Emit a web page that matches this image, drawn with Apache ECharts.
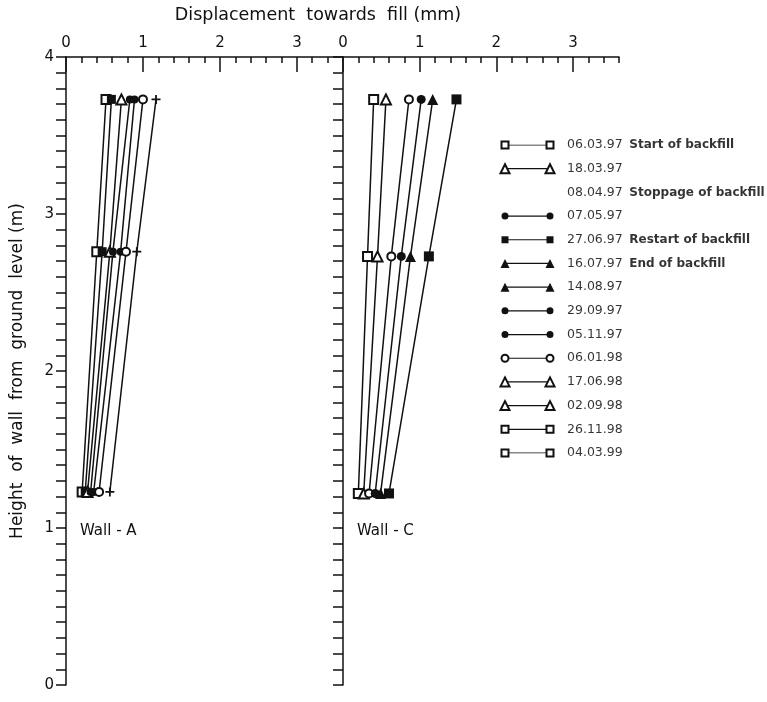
<!DOCTYPE html>
<html>
<head>
<meta charset="utf-8">
<script src="https://cdn.jsdelivr.net/npm/echarts@6/dist/echarts.min.js"></script>
<style>
html, body { margin: 0; background: #fff; }
#chart { width: 767px; height: 702px; }
</style>
</head>
<body>
<div id="chart"></div>
<script>
// gauge heights (m)
const heightsA = [1.23, 2.76, 3.73]
const heightsC = [1.22, 2.73, 3.73]

// Wall-A displacements (mm), bottom -> top
const wallA_openSquare = [0.21, 0.40, 0.52]
const wallA_square = [0.25, 0.47, 0.59]
const wallA_openTriangle = [0.28, 0.57, 0.72]
const wallA_circle1 = [0.32, 0.61, 0.83]
const wallA_circle2 = [0.36, 0.71, 0.89]
const wallA_openCircle = [0.43, 0.78, 1.00]
const wallA_plus = [0.57, 0.92, 1.17]

// Wall-C displacements (mm), bottom -> top
const wallC_openSquare = [0.20, 0.32, 0.40]
const wallC_openTriangle = [0.27, 0.45, 0.56]
const wallC_openCircle = [0.34, 0.63, 0.86]
const wallC_circle = [0.42, 0.76, 1.02]
const wallC_triangle = [0.49, 0.88, 1.17]
const wallC_square = [0.60, 1.12, 1.48]

const yTickLabels = [0, 1, 2, 3, 4]

const legendDates = ['06.03.97', '18.03.97', '08.04.97', '07.05.97', '27.06.97', '16.07.97', '14.08.97',
    '29.09.97', '05.11.97', '06.01.98', '17.06.98', '02.09.98', '26.11.98', '04.03.99']
const legendNotes = ['Start of backfill', '', 'Stoppage of backfill', '', 'Restart of backfill', 'End of backfill', '',
    '', '', '', '', '', '', '']
const legendSymbols = ['emptyRect', 'emptyTriangle', null, 'circle', 'rect', 'triangle', 'triangle',
    'circle', 'circle', 'emptyCircle', 'emptyTriangle', 'emptyTriangle', 'emptyRect', 'emptyRect']

const PLUS = 'path://M4,0h2v4h4v2h-4v4h-2v-4h-4v-2h4z'
const INK = '#111'
const FONT = 'DejaVu Sans'

function pts (xs, ys) {
    return xs.map((x, i) => [x, ys[i]])
}

function wallSeries (name, xs, ys, symbol, size, idx) {
    return {
        name: name,
        type: 'line',
        xAxisIndex: idx,
        yAxisIndex: idx,
        data: pts(xs, ys),
        symbol: symbol,
        symbolSize: size,
        lineStyle: { color: INK, width: 1.5 },
        itemStyle: { color: INK },
        z: 3
    }
}

// minor ticks + axis line, 0.2 mm steps
function minorAxis (grid) {
    return {
        type: 'value',
        gridIndex: grid,
        position: 'top',
        min: 0,
        max: 3.6,
        interval: 0.2,
        axisLine: { show: true, onZero: false, lineStyle: { color: INK, width: 1.5 } },
        axisTick: { show: true, inside: true, length: 6, lineStyle: { color: INK, width: 1.5 } },
        axisLabel: { show: false },
        splitLine: { show: false }
    }
}

// long ticks + labels at whole mm (overlay grid ending at 3 mm)
function majorAxis (grid) {
    return {
        type: 'value',
        gridIndex: grid,
        position: 'top',
        min: 0,
        max: 3,
        interval: 1,
        axisLine: { show: false, onZero: false },
        axisTick: { show: true, inside: true, length: 15, lineStyle: { color: INK, width: 1.5 } },
        axisLabel: { show: true, margin: 6, color: INK, fontSize: 15, fontFamily: FONT },
        splitLine: { show: false }
    }
}

function sideAxis (grid, labels) {
    return {
        type: 'value',
        gridIndex: grid,
        min: 0,
        max: 4,
        interval: 0.1,
        axisLine: { show: true, onZero: false, lineStyle: { color: INK, width: 1.5 } },
        axisTick: { show: true, length: 10, lineStyle: { color: INK, width: 1.5 } },
        axisLabel: {
            show: labels,
            margin: 12,
            color: INK,
            fontSize: 15,
            fontFamily: FONT,
            formatter: v => yTickLabels.indexOf(Math.round(v * 10) / 10) >= 0 ? String(Math.round(v)) : ''
        },
        splitLine: { show: false },
        name: labels ? 'Height  of  wall  from  ground  level (m)' : '',
        nameLocation: 'middle',
        nameGap: 40,
        nameRotate: 90,
        nameTextStyle: { color: INK, fontSize: 17, fontFamily: FONT }
    }
}

const series = [
    wallSeries('A 06.03.97', wallA_openSquare, heightsA, 'emptyRect', 9, 0),
    wallSeries('A 27.06.97', wallA_square, heightsA, 'rect', 9, 0),
    wallSeries('A 18.03.97', wallA_openTriangle, heightsA, 'emptyTriangle', 10, 0),
    wallSeries('A 07.05.97', wallA_circle1, heightsA, 'circle', 8, 0),
    wallSeries('A 29.09.97', wallA_circle2, heightsA, 'circle', 8, 0),
    wallSeries('A 06.01.98', wallA_openCircle, heightsA, 'emptyCircle', 8, 0),
    wallSeries('A 08.04.97', wallA_plus, heightsA, PLUS, 9, 0),
    wallSeries('C 06.03.97', wallC_openSquare, heightsC, 'emptyRect', 9, 1),
    wallSeries('C 18.03.97', wallC_openTriangle, heightsC, 'emptyTriangle', 10, 1),
    wallSeries('C 06.01.98', wallC_openCircle, heightsC, 'emptyCircle', 8, 1),
    wallSeries('C 07.05.97', wallC_circle, heightsC, 'circle', 9, 1),
    wallSeries('C 16.07.97', wallC_triangle, heightsC, 'triangle', 11, 1),
    wallSeries('C 27.06.97', wallC_square, heightsC, 'rect', 10, 1)
]

// legend rows drawn as little two-point lines in their own grid
legendSymbols.forEach((sym, i) => {
    if (!sym) return
    series.push({
        type: 'line',
        xAxisIndex: 2,
        yAxisIndex: 2,
        data: [[0, i], [1, i]],
        symbol: sym,
        symbolSize: sym.indexOf('riangle') >= 0 ? 9 : 7,
        lineStyle: { color: INK, width: 1.2 },
        itemStyle: { color: INK },
        silent: true
    })
})
series.push({
    type: 'scatter',
    xAxisIndex: 2,
    yAxisIndex: 2,
    data: legendDates.map((d, i) => [1, i]),
    symbolSize: 0,
    itemStyle: { color: INK },
    label: {
        show: true,
        position: 'right',
        distance: 17,
        color: '#000',
        formatter: p => '{d|' + legendDates[p.dataIndex] + '}' +
            (legendNotes[p.dataIndex] ? '  {n|' + legendNotes[p.dataIndex] + '}' : ''),
        rich: {
            d: { color: '#000', fontSize: 12.5, fontFamily: FONT },
            n: { color: '#000', fontSize: 12, fontWeight: 'bold', fontFamily: FONT }
        }
    },
    silent: true
})

const chart = echarts.init(document.getElementById('chart'))
chart.setOption({
    backgroundColor: '#fff',
    animation: false,
    grid: [
        { left: 66, top: 57, width: 277, height: 628 },
        { left: 343, top: 57, width: 276, height: 628 },
        { left: 505, top: 145, width: 45, height: 308 },
        { left: 66, top: 57, width: 231, height: 628 },
        { left: 343, top: 57, width: 230, height: 628 }
    ],
    xAxis: [
        minorAxis(0),
        minorAxis(1),
        { type: 'value', gridIndex: 2, min: 0, max: 1, show: false },
        majorAxis(3),
        majorAxis(4)
    ],
    yAxis: [
        sideAxis(0, true),
        sideAxis(1, false),
        { type: 'value', gridIndex: 2, min: 0, max: 13, inverse: true, show: false },
        { type: 'value', gridIndex: 3, min: 0, max: 4, show: false },
        { type: 'value', gridIndex: 4, min: 0, max: 4, show: false }
    ],
    graphic: [
        {
            type: 'text', x: 318, y: 15,
            style: { text: 'Displacement  towards  fill (mm)', fill: INK, fontSize: 17.5, fontFamily: FONT, align: 'center', verticalAlign: 'middle' }
        },
        { type: 'text', left: 80, top: 524, style: { text: 'Wall - A', fill: INK, fontSize: 15, fontFamily: FONT } },
        { type: 'text', left: 357, top: 524, style: { text: 'Wall - C', fill: INK, fontSize: 15, fontFamily: FONT } }
    ],
    series: series
})
</script>
</body>
</html>
